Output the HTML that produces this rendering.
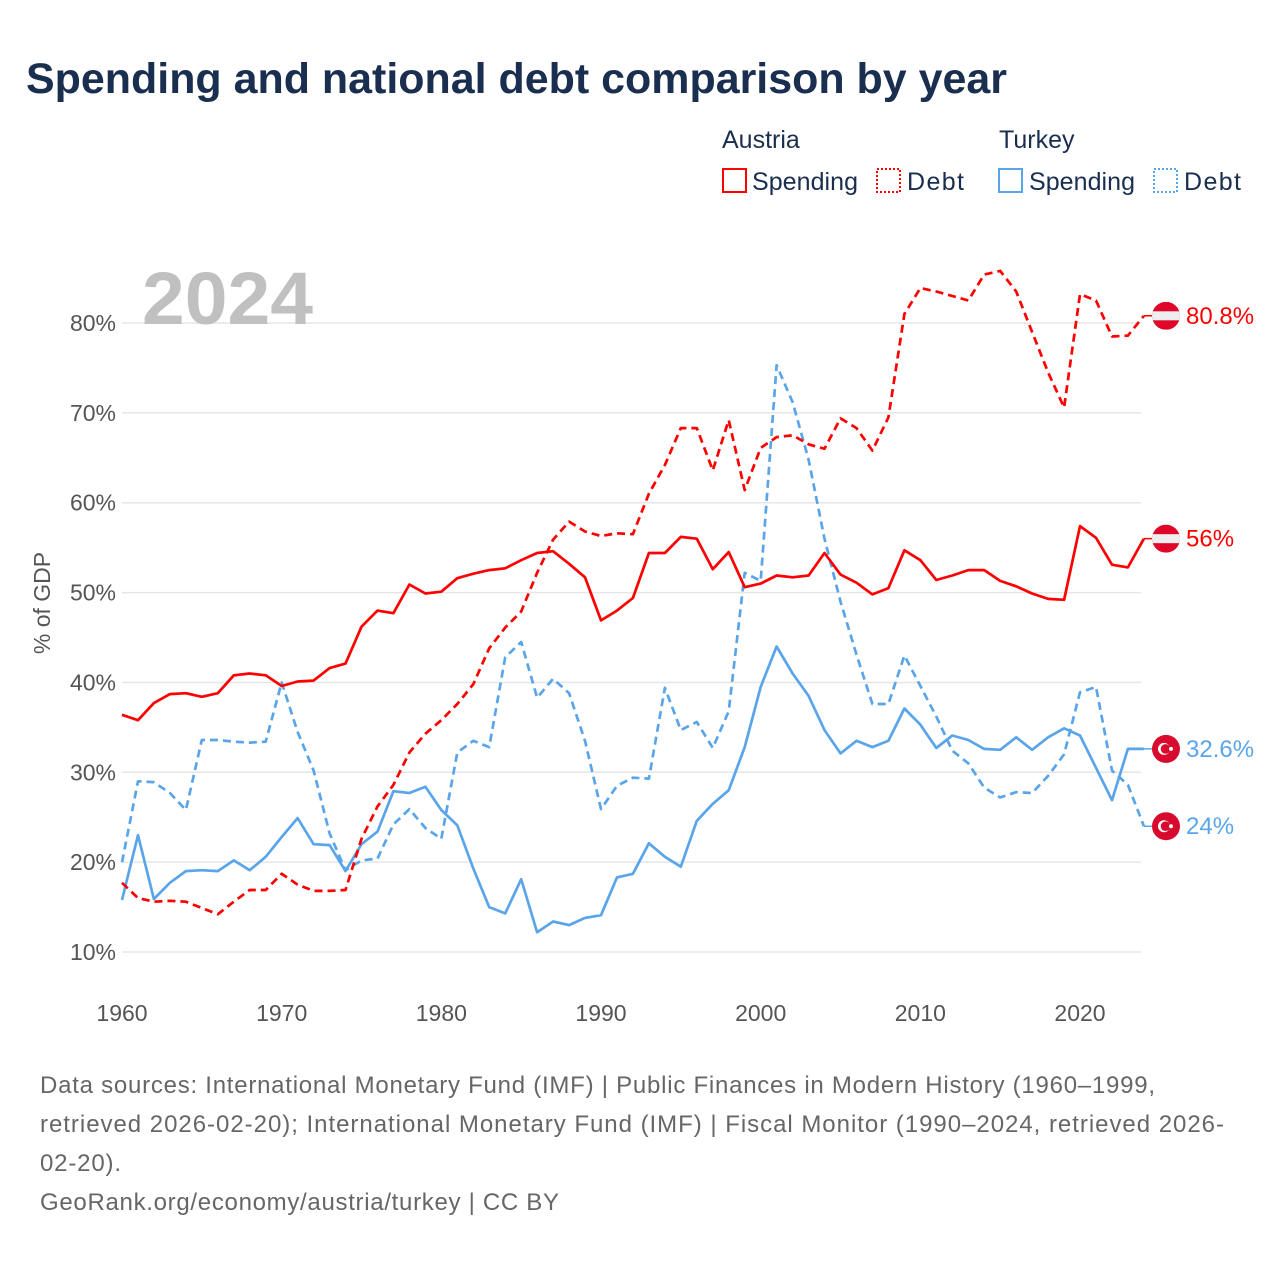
<!DOCTYPE html>
<html><head><meta charset="utf-8"><style>
body{margin:0;background:#fff;width:1280px;height:1280px;overflow:hidden;font-family:"Liberation Sans",sans-serif}
svg{display:block}
</style></head><body>
<svg id="chart" width="1280" height="1280" viewBox="0 0 1280 1280" xmlns="http://www.w3.org/2000/svg">
<text x="26" y="93" font-size="43" font-weight="bold" fill="#1a2e4f" textLength="981" lengthAdjust="spacingAndGlyphs">Spending and national debt comparison by year</text>
<g font-size="25" fill="#1a2e4f">
<text x="722" y="148">Austria</text>
<text x="999" y="148">Turkey</text>
<g><rect x="723" y="169" width="23" height="23" fill="none" stroke="#ff0000" stroke-width="2"/><text x="752" y="190" textLength="106">Spending</text></g>
<g><rect x="877" y="169" width="23" height="23" fill="none" stroke="#ff0000" stroke-width="2" stroke-dasharray="2,2"/><text x="907" y="190" textLength="57">Debt</text></g>
<g><rect x="999" y="169" width="23" height="23" fill="none" stroke="#5aa5ea" stroke-width="2"/><text x="1029" y="190" textLength="106">Spending</text></g>
<g><rect x="1154" y="169" width="23" height="23" fill="none" stroke="#5aa5ea" stroke-width="2" stroke-dasharray="2,2"/><text x="1184" y="190" textLength="57">Debt</text></g>
</g>
<g id="grid"></g>
<text x="142" y="324" font-size="74" font-weight="bold" fill="#c0c0c0" textLength="171" lengthAdjust="spacingAndGlyphs">2024</text>
<text transform="translate(50,603) rotate(-90)" text-anchor="middle" font-size="23" fill="#555">% of GDP</text>
<g id="series"></g>
<g id="ends"></g>
<g font-size="24" fill="#666">
<text x="40" y="1093" textLength="1115">Data sources: International Monetary Fund (IMF) | Public Finances in Modern History (1960–1999,</text>
<text x="40" y="1132" textLength="1184">retrieved 2026-02-20); International Monetary Fund (IMF) | Fiscal Monitor (1990–2024, retrieved 2026-</text>
<text x="40" y="1171" textLength="81">02-20).</text>
<text x="40" y="1210" textLength="519">GeoRank.org/economy/austria/turkey | CC BY</text>
</g>
</svg>
<script>
const years=[];for(let y=1960;y<=2024;y++)years.push(y);
const austriaSpending=[36.4,35.8,37.7,38.7,38.8,38.4,38.8,40.8,41.0,40.8,39.6,40.1,40.2,41.6,42.1,46.2,48.0,47.7,50.9,49.9,50.1,51.6,52.1,52.5,52.7,53.6,54.4,54.6,53.2,51.7,46.9,48.0,49.4,54.4,54.4,56.2,56.0,52.6,54.5,50.6,51.0,51.9,51.7,51.9,54.4,52.0,51.1,49.8,50.5,54.7,53.6,51.4,51.9,52.5,52.5,51.3,50.7,49.9,49.3,49.2,57.4,56.1,53.1,52.8,56.0];
const austriaDebt=[17.7,16.0,15.6,15.7,15.6,14.9,14.2,15.6,16.9,16.9,18.7,17.5,16.8,16.8,16.9,22.6,26.2,28.6,32.2,34.3,35.8,37.6,39.8,43.8,46.1,47.9,52.2,55.9,57.9,56.8,56.3,56.6,56.5,61.0,64.2,68.3,68.3,63.6,69.2,61.4,66.1,67.3,67.5,66.5,66.0,69.4,68.3,65.8,69.5,81.0,83.9,83.5,83.0,82.5,85.4,85.8,83.5,79.0,74.5,70.6,83.2,82.5,78.5,78.6,80.8];
const turkeySpending=[15.8,23.0,15.9,17.7,19.0,19.1,19.0,20.2,19.1,20.6,22.8,24.9,22.0,21.9,19.0,22.0,23.4,27.9,27.7,28.4,25.8,24.1,19.3,15.0,14.3,18.1,12.2,13.4,13.0,13.8,14.1,18.3,18.7,22.1,20.6,19.5,24.6,26.5,28.0,32.8,39.5,44.0,41.0,38.5,34.7,32.1,33.5,32.8,33.5,37.1,35.3,32.7,34.1,33.6,32.6,32.5,33.9,32.5,33.9,34.9,34.1,30.5,26.9,32.6,32.6];
const turkeyDebt=[20.0,29.0,28.9,27.7,25.8,33.6,33.6,33.4,33.3,33.4,40.0,34.5,30.2,23.2,19.1,20.2,20.4,24.2,25.9,23.8,22.6,32.2,33.5,32.8,42.8,44.5,38.3,40.4,38.8,33.5,25.9,28.5,29.4,29.3,39.4,34.7,35.6,32.7,36.8,52.2,51.3,75.3,71.2,64.8,56.0,49.0,43.1,37.6,37.6,43.0,39.6,36.2,32.4,31.0,28.3,27.2,27.8,27.7,29.6,32.0,38.9,39.5,30.2,28.6,24.0];
const yTicks=[10,20,30,40,50,60,70,80];
const xTicks=[1960,1970,1980,1990,2000,2010,2020];
const NS="http://www.w3.org/2000/svg";
const xs=y=>122+(y-1960)*15.967;
const ys=v=>323+(80-v)*8.986;
const grid=document.getElementById('grid');
yTicks.forEach(t=>{
 const l=document.createElementNS(NS,'line');
 l.setAttribute('x1',122);l.setAttribute('x2',1141);l.setAttribute('y1',ys(t));l.setAttribute('y2',ys(t));
 l.setAttribute('stroke','#e6e6e6');l.setAttribute('stroke-width','1.5');
 
 
 grid.appendChild(l);
 const tx=document.createElementNS(NS,'text');
 tx.setAttribute('x',116);tx.setAttribute('y',ys(t)+8);tx.setAttribute('text-anchor','end');
 tx.setAttribute('font-size','23');tx.setAttribute('fill','#555');tx.textContent=t+'%';
 
 
 grid.appendChild(tx);
});
xTicks.forEach(t=>{
 const tx=document.createElementNS(NS,'text');
 tx.setAttribute('x',xs(t));tx.setAttribute('y',1021);tx.setAttribute('text-anchor','middle');
 tx.setAttribute('font-size','23');tx.setAttribute('fill','#555');tx.textContent=t;
 
 
 grid.appendChild(tx);
});
const ser=document.getElementById('series');
function line(vals,color,dash,name){
 const p=document.createElementNS(NS,'polyline');
 p.setAttribute('points',vals.map((v,i)=>xs(years[i]).toFixed(1)+','+ys(v).toFixed(1)).join(' '));
 p.setAttribute('fill','none');p.setAttribute('stroke',color);p.setAttribute('stroke-width','2.7');
 p.setAttribute('stroke-linejoin','round');
 if(dash)p.setAttribute('stroke-dasharray','8,5');
 
 
 ser.appendChild(p);
}
line(turkeyDebt,'#5aa5ea',true,'turkey-debt-line');
line(turkeySpending,'#5aa5ea',false,'turkey-spending-line');
line(austriaDebt,'#ff0000',true,'austria-debt-line');
line(austriaSpending,'#ff0000',false,'austria-spending-line');
const ends=document.getElementById('ends');
function endLabel(v,color,flag,name){
 const g=document.createElementNS(NS,'g');
 
 
 const cx=1166,cy=ys(v);
 const t1=document.createElementNS(NS,'line');
 t1.setAttribute('x1',xs(2024));t1.setAttribute('x2',cx);t1.setAttribute('y1',cy);t1.setAttribute('y2',cy);
 t1.setAttribute('stroke',color);t1.setAttribute('stroke-width','1.5');g.appendChild(t1);
 if(flag==='at'){
  g.innerHTML+=`<clipPath id="c${name}"><circle cx="${cx}" cy="${cy}" r="14"/></clipPath><g clip-path="url(#c${name})"><rect x="${cx-14}" y="${cy-14}" width="28" height="28" fill="#e0062a"/><rect x="${cx-14}" y="${cy-4.5}" width="28" height="9" fill="#eee"/></g>`;
 }else{
  g.innerHTML+=`<circle cx="${cx}" cy="${cy}" r="14" fill="#d80a2d"/><circle cx="${cx-2}" cy="${cy}" r="6" fill="#fff"/><circle cx="${cx-0.5}" cy="${cy}" r="4.8" fill="#d80a2d"/><circle cx="${cx+5}" cy="${cy}" r="2" fill="#fff"/>`;
 }
 const tx=document.createElementNS(NS,'text');
 tx.setAttribute('x',1186);tx.setAttribute('y',cy+8);tx.setAttribute('font-size','24');tx.setAttribute('fill',color);
 tx.textContent=(Math.round(v*10)/10)+'%';g.appendChild(tx);
 ends.appendChild(g);
}
endLabel(austriaDebt[austriaDebt.length-1],'#ff0000','at','austria-debt-end-label');
endLabel(austriaSpending[austriaSpending.length-1],'#ff0000','at','austria-spending-end-label');
endLabel(turkeySpending[turkeySpending.length-1],'#5aa5ea','tr','turkey-spending-end-label');
endLabel(turkeyDebt[turkeyDebt.length-1],'#5aa5ea','tr','turkey-debt-end-label');
</script>
</body></html>
